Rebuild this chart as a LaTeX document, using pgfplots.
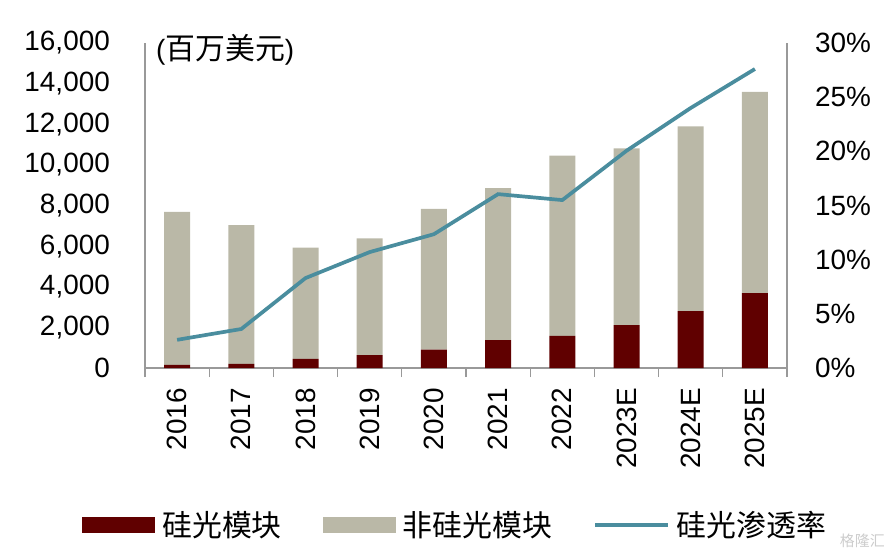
\documentclass[border=0pt]{standalone}
\usepackage{fontspec}
\setmainfont{Liberation Sans}
\newfontfamily\cjk{Noto Sans CJK SC}
\usepackage{pgfplots}
\usepackage{pgfplotstable}
\pgfplotsset{compat=1.18}

\definecolor{siph}{HTML}{600000}
\definecolor{nonsiph}{HTML}{BAB8A7}
\definecolor{rate}{HTML}{4A8D9E}
\definecolor{axgray}{HTML}{999999}
\newcommand\bigf{\fontsize{28}{32}\selectfont}
\newcommand\cjkf{\fontsize{30}{34}\selectfont\cjk}

% SiPh module, non-SiPh module (USD mn), SiPh penetration (%)
\pgfplotstableread{
x siph non  rate
0 150  7540 2.6
1 200  6830 3.6
2 450  5480 8.3
3 640  5740 10.7
4 900  6940 12.35
5 1370 7480 16.05
6 1580 8880 15.5
7 2110 8700 20.05
8 2800 9090 24.0
9 3690 9900 27.6
}\datatable

\pgfplotsset{
  base/.style={scale only axis, width=642bp, height=325bp,
    xmin=-0.5, xmax=9.5,
    axis line style={axgray, line width=1.2bp},
    tick label style={font=\bigf},
    /pgf/number format/assume math mode=true,
    major tick length=0pt},
}

\begin{document}
\begin{tikzpicture}
\begin{axis}[base, name=ax, clip=false,
  ybar stacked, bar width=26bp,
  ymin=0, ymax=16000, ytick={0,2000,...,16000}, scaled y ticks=false,
  axis x line*=bottom, axis y line*=left,
  xtick={0,...,9},
  xticklabels={2016,2017,2018,2019,2020,2021,2022,2023E,2024E,2025E},
  minor xtick={-0.5,0.5,...,9.5}, minor tick length=9bp, tick align=outside,
  minor tick style={axgray, line width=1.2bp},
  xticklabel style={rotate=90, anchor=east, inner sep=0pt},
  xticklabel shift=20bp,
  yticklabel style={anchor=east, inner sep=0pt},
  yticklabel shift=35bp,
  legend style={draw=none, fill=none, font=\cjkf, legend columns=3,
    at={(-0.098,-0.483)}, anchor=west, inner sep=0pt,
    nodes={inner xsep=7bp},
    /tikz/every even column/.append style={column sep=34bp}},
  legend cell align=left,
]
\addplot[fill=siph, draw=none,
  legend image code/.code={\fill[siph] (0bp,-8bp) rectangle (73bp,8bp);}]
  table[x=x, y=siph]{\datatable};
\addlegendentry{硅光模块}
\addplot[fill=nonsiph, draw=none,
  legend image code/.code={\fill[nonsiph] (0bp,-8bp) rectangle (73bp,8bp);}]
  table[x=x, y=non]{\datatable};
\addlegendentry{非硅光模块}
\addlegendimage{legend image code/.code={\draw[rate, line width=3.7bp] (0bp,0bp) -- (73bp,0bp);}}
\addlegendentry{硅光渗透率}
\node[anchor=west, font=\bigf, inner sep=0pt] at (rel axis cs:0.017,0.978) {({\cjkf 百万美元})};
\end{axis}

\begin{axis}[base,
  ymin=0, ymax=30, ytick={0,5,...,30},
  axis x line=none, axis y line*=right,
  yticklabel={\pgfmathprintnumber{\tick}\%},
  yticklabel style={anchor=west, inner sep=0pt},
  yticklabel shift=28bp,
]
\addplot[rate, line width=3.7bp, mark=none] table[x=x, y=rate]{\datatable};
\end{axis}

\node[anchor=east, text=gray!40, font=\fontsize{15}{15}\selectfont\cjk, inner sep=0pt]
  at ([shift={(98bp,-173bp)}]ax.south east) {格隆汇};

\pgfresetboundingbox
\path[use as bounding box] ([shift={(-145bp,-188bp)}]ax.south west) rectangle ([shift={(100bp,43bp)}]ax.north east);
\end{tikzpicture}
\end{document}
